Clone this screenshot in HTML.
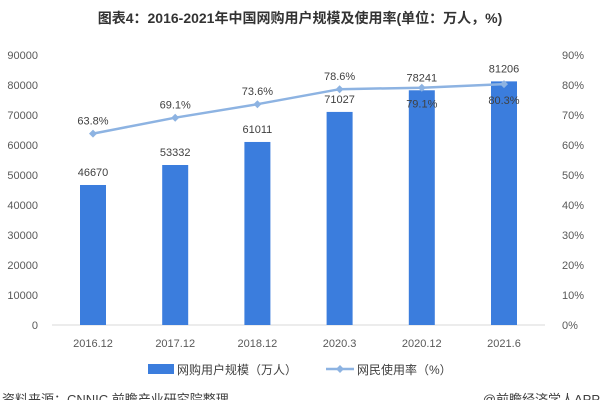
<!DOCTYPE html>
<html><head><meta charset="utf-8"><style>
body{margin:0;background:#fff;}
svg{display:block;font-family:"Liberation Sans","Noto Sans CJK SC",sans-serif;}
</style></head><body>
<svg id="c" width="600" height="400">
<text x="300" y="23" text-anchor="middle" font-size="14" font-weight="bold" fill="#333">图表4：2016-2021年中国网购用户规模及使用率(单位：万人，%)</text>
</svg>
<script>
const categories=["2016.12","2017.12","2018.12","2020.3","2020.12","2021.6"];
const users=[46670,53332,61011,71027,78241,81206];
const rates=[63.8,69.1,73.6,78.6,79.1,80.3];
const leftTicks=[0,10000,20000,30000,40000,50000,60000,70000,80000,90000];
const rightTicks=[0,10,20,30,40,50,60,70,80,90];

const svg=document.getElementById('c');
const NS='http://www.w3.org/2000/svg';
const y0=325,y1=55,x0=52,x1=545;
const yL=v=>y0-(v/90000)*(y0-y1);
const yR=v=>y0-(v/90)*(y0-y1);
const step=(504-93)/(categories.length-1);
const xC=i=>93+i*step;
function el(t,a,txt){const e=document.createElementNS(NS,t);for(const k in a)e.setAttribute(k,a[k]);if(txt!==undefined)e.textContent=txt;svg.appendChild(e);return e;}

const ax=el('line',{x1:x0,x2:x1,y1:y0,y2:y0,stroke:'#d9d9d9','stroke-width':1});


leftTicks.forEach(v=>{const t=el('text',{x:38,y:yL(v)+4,'text-anchor':'end','font-size':11,fill:'#595959'},String(v));

});
rightTicks.forEach(v=>{const t=el('text',{x:562,y:yR(v)+4,'text-anchor':'start','font-size':11,fill:'#595959'},v+'%');

});
categories.forEach((c,i)=>{const t=el('text',{x:xC(i),y:347,'text-anchor':'middle','font-size':11,fill:'#595959'},c);

});
users.forEach((v,i)=>{const b=el('rect',{x:xC(i)-13,y:yL(v),width:26,height:y0-yL(v),fill:'#3b7ddd'});


const t=el('text',{x:xC(i),y:yL(v)-9,'text-anchor':'middle','font-size':11,fill:'#404040'},String(v));

});
const pts=rates.map((r,i)=>xC(i)+','+yR(r)).join(' ');
const pl=el('polyline',{points:pts,fill:'none',stroke:'#8db3e2','stroke-width':2.5});


rates.forEach((r,i)=>{const p=el('path',{d:`M${xC(i)} ${yR(r)-4}l4 4l-4 4l-4 -4z`,fill:'#8db3e2'});


const below=i>=4;
const t=el('text',{x:xC(i),y:below?yR(r)+20:yR(r)-9,'text-anchor':'middle','font-size':11,fill:'#404040'},r.toFixed(1)+'%');

});

const ls=el('rect',{x:148,y:364,width:26,height:10,fill:'#3b7ddd'});


const lt=el('text',{x:177,y:374,'font-size':12,fill:'#404040'},'网购用户规模（万人）');


const ll=el('line',{x1:326,x2:354,y1:369,y2:369,stroke:'#8db3e2','stroke-width':2.5});


const lp=el('path',{d:'M340 365l4 4l-4 4l-4 -4z',fill:'#8db3e2'});


const lt2=el('text',{x:357,y:374,'font-size':12,fill:'#404040'},'网民使用率（%）');


const f1=el('text',{x:2,y:404,'font-size':13,fill:'#404040'},'资料来源：CNNIC 前瞻产业研究院整理');


const f2=el('text',{x:600,y:404,'text-anchor':'end','font-size':13,fill:'#404040'},'@前瞻经济学人APP');


</script>
</body></html>
